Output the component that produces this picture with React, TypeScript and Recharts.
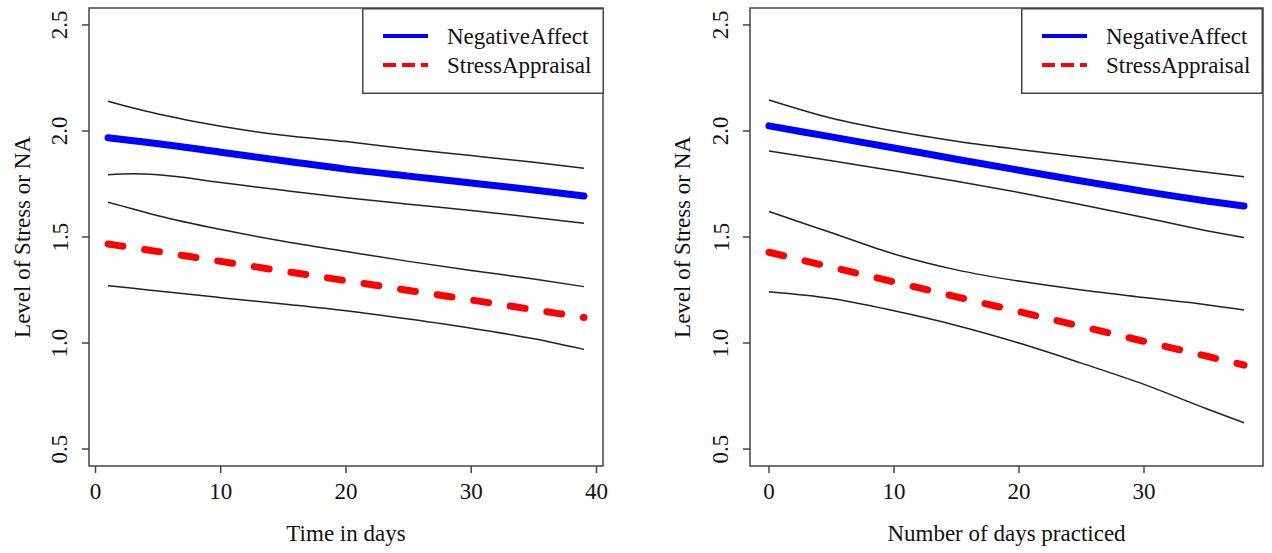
import React from "react";
import { LineChart, Line, XAxis, YAxis, ReferenceArea } from "recharts";

const FONT = '"Liberation Serif", "Times New Roman", serif';

// left panel: Time in days
const leftX = [1, 3, 5, 10, 15, 20, 25, 30, 35, 39];
const leftNAUpper = [2.14, 2.108, 2.08, 2.022, 1.98, 1.95, 1.915, 1.884, 1.852, 1.824];
const leftNA = [1.968, 1.954, 1.94, 1.9, 1.86, 1.82, 1.787, 1.755, 1.722, 1.693];
const leftNALower = [1.793, 1.798, 1.793, 1.757, 1.72, 1.685, 1.655, 1.625, 1.592, 1.565];
const leftSAUpper = [1.664, 1.632, 1.6, 1.535, 1.48, 1.432, 1.385, 1.342, 1.302, 1.266];
const leftSA = [1.467, 1.449, 1.431, 1.385, 1.339, 1.294, 1.248, 1.203, 1.157, 1.12];
const leftSALower = [1.27, 1.258, 1.245, 1.214, 1.184, 1.152, 1.113, 1.07, 1.02, 0.97];

// right panel: Number of days practiced
const rightX = [0, 5, 10, 15, 20, 25, 30, 35, 38];
const rightNAUpper = [2.146, 2.06, 2.0, 1.952, 1.913, 1.877, 1.842, 1.805, 1.784];
const rightNA = [2.024, 1.972, 1.92, 1.867, 1.815, 1.764, 1.715, 1.67, 1.646];
const rightNALower = [1.906, 1.86, 1.812, 1.763, 1.71, 1.652, 1.592, 1.53, 1.497];
const rightSAUpper = [1.62, 1.52, 1.42, 1.345, 1.292, 1.25, 1.215, 1.181, 1.156];
const rightSA = [1.428, 1.358, 1.288, 1.218, 1.148, 1.078, 1.008, 0.938, 0.896];
const rightSALower = [1.242, 1.21, 1.152, 1.083, 1.0, 0.905, 0.805, 0.69, 0.624];

const yTicks = [0.5, 1.0, 1.5, 2.0, 2.5];
const leftXTicks = [0, 10, 20, 30, 40];
const rightXTicks = [0, 10, 20, 30];

const seriesNames = ["NegativeAffect", "StressAppraisal"];
const seriesColors = ["#0000ff", "#ff0000"];

const buildRows = (xs: number[], cols: number[][]) =>
  xs.map((x, i) => ({
    x,
    naUp: cols[0][i],
    na: cols[1][i],
    naLo: cols[2][i],
    saUp: cols[3][i],
    sa: cols[4][i],
    saLo: cols[5][i],
  }));

const leftData = buildRows(leftX, [leftNAUpper, leftNA, leftNALower, leftSAUpper, leftSA, leftSALower]);
const rightData = buildRows(rightX, [rightNAUpper, rightNA, rightNALower, rightSAUpper, rightSA, rightSALower]);

const TXT = "#111";

const XTick = ({ x, y, payload }: any) => (
  <text x={x} y={y + 16} textAnchor="middle" dominantBaseline="central" fontSize={23} fontFamily={FONT} fill={TXT}>
    {payload.value}
  </text>
);

const YTick = ({ x, y, payload }: any) => (
  <text
    x={x - 20}
    y={y}
    textAnchor="middle"
    dominantBaseline="central"
    fontSize={23}
    fontFamily={FONT}
    fill={TXT}
    transform={`rotate(-90, ${x - 20}, ${y})`}
  >
    {Number(payload.value).toFixed(1)}
  </text>
);

const LegendBox = ({ left, top }: { left: number; top: number }) => (
  <svg style={{ position: "absolute", left, top }} width={242} height={86}>
    <rect x={0.75} y={0.75} width={240.5} height={84.5} fill="#fff" stroke="#444" strokeWidth={1.5} />
    {seriesNames.map((name, i) => (
      <g key={name}>
        <line
          x1={21}
          x2={66}
          y1={28 + i * 29}
          y2={28 + i * 29}
          stroke={seriesColors[i]}
          strokeWidth={4}
          strokeDasharray={i === 1 ? "13 6" : undefined}
        />
        <text x={85} y={28 + i * 29} dominantBaseline="central" fontSize={23} fontFamily={FONT} fill={TXT}>
          {name}
        </text>
      </g>
    ))}
  </svg>
);

type PanelProps = {
  data: any[];
  width: number;
  rightMargin: number;
  yAxisWidth: number;
  domainX: [number, number];
  xTicks: number[];
  xTitle: string;
};

const Panel = ({ data, width, rightMargin, yAxisWidth, domainX, xTicks, xTitle }: PanelProps) => (
  <LineChart width={width} height={553} data={data} margin={{ top: 8, right: rightMargin, bottom: 0, left: 0 }}>
    <XAxis
      dataKey="x"
      type="number"
      domain={domainX}
      ticks={xTicks}
      allowDataOverflow
      axisLine={false}
      tickLine={{ stroke: "#444", strokeWidth: 1.5 }}
      tickSize={7}
      height={87}
      tick={<XTick />}
      label={(p: any) => (
        <text
          x={p.viewBox.x + p.viewBox.width / 2}
          y={p.viewBox.y + 67}
          textAnchor="middle"
          dominantBaseline="central"
          fontSize={23}
          fontFamily={FONT}
          fill={TXT}
        >
          {xTitle}
        </text>
      )}
    />
    <YAxis
      type="number"
      domain={[0.42, 2.58]}
      ticks={yTicks}
      allowDataOverflow
      axisLine={false}
      tickLine={{ stroke: "#444", strokeWidth: 1.5 }}
      tickSize={7}
      width={yAxisWidth}
      tick={<YTick />}
      label={(p: any) => (
        <text
          x={p.viewBox.x + 22}
          y={p.viewBox.y + p.viewBox.height / 2}
          textAnchor="middle"
          dominantBaseline="central"
          fontSize={23}
          fontFamily={FONT}
          fill={TXT}
          transform={`rotate(-90, ${p.viewBox.x + 22}, ${p.viewBox.y + p.viewBox.height / 2})`}
        >
          Level of Stress or NA
        </text>
      )}
    />
    <ReferenceArea
      x1={domainX[0]}
      x2={domainX[1]}
      y1={0.42}
      y2={2.58}
      fill="none"
      stroke="#444"
      strokeWidth={1.5}
      ifOverflow="visible"
    />
    <Line dataKey="naUp" type="monotone" stroke="#222" strokeWidth={1.5} dot={false} isAnimationActive={false} />
    <Line dataKey="naLo" type="monotone" stroke="#222" strokeWidth={1.5} dot={false} isAnimationActive={false} />
    <Line dataKey="saUp" type="monotone" stroke="#222" strokeWidth={1.5} dot={false} isAnimationActive={false} />
    <Line dataKey="saLo" type="monotone" stroke="#222" strokeWidth={1.5} dot={false} isAnimationActive={false} />
    <Line
      dataKey="na"
      type="monotone"
      stroke={seriesColors[0]}
      strokeWidth={7}
      strokeLinecap="round"
      dot={false}
      isAnimationActive={false}
    />
    <Line
      dataKey="sa"
      type="monotone"
      stroke={seriesColors[1]}
      strokeWidth={7}
      strokeLinecap="round"
      strokeDasharray="15 22"
      dot={false}
      isAnimationActive={false}
    />
  </LineChart>
);

export default function App() {
  return (
    <div style={{ position: "absolute", left: 0, top: 0, width: 1272, height: 553, background: "#fff" }}>
      <div style={{ position: "absolute", left: 0, top: 0 }}>
        <Panel
          data={leftData}
          width={636}
          rightMargin={33}
          yAxisWidth={89}
          domainX={[-0.52, 40.52]}
          xTicks={leftXTicks}
          xTitle="Time in days"
        />
      </div>
      <div style={{ position: "absolute", left: 660, top: 0 }}>
        <Panel
          data={rightData}
          width={612}
          rightMargin={9}
          yAxisWidth={90}
          domainX={[-1.52, 39.52]}
          xTicks={rightXTicks}
          xTitle="Number of days practiced"
        />
      </div>
      <LegendBox left={362} top={8} />
      <LegendBox left={1021} top={8} />
    </div>
  );
}
